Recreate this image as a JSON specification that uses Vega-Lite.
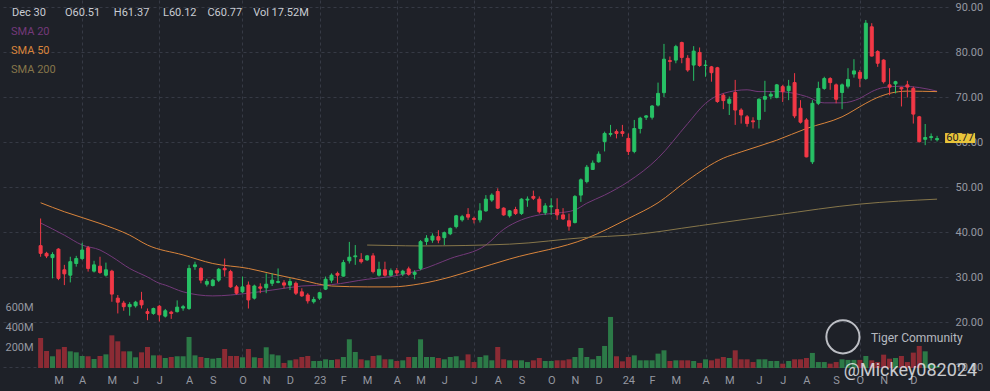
{
 "$schema": "https://vega.github.io/schema/vega-lite/v6.json",
 "width": 948, "height": 368, "autosize": "none", "padding": {"left": 0, "top": 0, "right": 42, "bottom": 23},
 "background": "#1e2128",
 "config": {"view": {"stroke": null}, "font": "Roboto", "axis": {"labelFont": "Roboto"}, "legend": {"labelFont": "Roboto"}},
 "title": {"text": "Dec 30\u00a0\u00a0\u00a0\u00a0\u00a0\u00a0\u00a0O60.51\u00a0\u00a0\u00a0\u00a0\u00a0H61.37\u00a0\u00a0\u00a0\u00a0\u00a0L60.12\u00a0\u00a0\u00a0\u00a0C60.77\u00a0\u00a0\u00a0\u00a0Vol 17.52M", "anchor": "start", "frame": "group", "offset": -18, "dx": 12, "fontSize": 11, "fontWeight": "normal", "color": "#c9ccd3"},
 "datasets": {
  "candles": [
{"date":"2022-02-07","open":36.96,"high":43.0,"low":34.5,"close":35.26,"volume":297},
{"date":"2022-02-14","open":35.26,"high":35.6,"low":34.2,"close":34.67,"volume":168},
{"date":"2022-02-21","open":34.3,"high":35.5,"low":29.7,"close":35.0,"volume":116},
{"date":"2022-02-28","open":36.2,"high":36.4,"low":29.3,"close":29.7,"volume":185},
{"date":"2022-03-07","open":31.6,"high":32.7,"low":28.2,"close":30.7,"volume":208},
{"date":"2022-03-14","open":30.4,"high":34.5,"low":28.8,"close":33.4,"volume":165},
{"date":"2022-03-21","open":33.0,"high":34.7,"low":32.3,"close":34.1,"volume":155},
{"date":"2022-03-28","open":34.1,"high":37.6,"low":33.8,"close":36.0,"volume":119},
{"date":"2022-04-04","open":36.5,"high":36.9,"low":31.2,"close":31.9,"volume":116},
{"date":"2022-04-11","open":31.3,"high":33.6,"low":31.0,"close":32.7,"volume":89},
{"date":"2022-04-18","open":32.4,"high":34.5,"low":30.7,"close":31.0,"volume":119},
{"date":"2022-04-25","open":30.4,"high":33.2,"low":30.1,"close":31.6,"volume":135},
{"date":"2022-05-02","open":31.3,"high":31.6,"low":24.5,"close":26.2,"volume":323},
{"date":"2022-05-09","open":25.3,"high":26.0,"low":21.9,"close":24.4,"volume":264},
{"date":"2022-05-16","open":24.2,"high":24.7,"low":22.5,"close":23.4,"volume":165},
{"date":"2022-05-23","open":23.4,"high":24.4,"low":21.4,"close":23.9,"volume":165},
{"date":"2022-05-30","open":23.6,"high":24.7,"low":23.2,"close":24.4,"volume":106},
{"date":"2022-06-06","open":24.8,"high":26.7,"low":23.0,"close":23.8,"volume":155},
{"date":"2022-06-13","open":22.3,"high":23.0,"low":20.4,"close":21.9,"volume":208},
{"date":"2022-06-20","open":21.9,"high":23.2,"low":21.6,"close":23.0,"volume":125},
{"date":"2022-06-27","open":23.5,"high":23.8,"low":20.1,"close":21.6,"volume":125},
{"date":"2022-07-04","open":21.3,"high":22.9,"low":21.0,"close":22.5,"volume":99},
{"date":"2022-07-11","open":22.2,"high":22.5,"low":20.7,"close":21.9,"volume":109},
{"date":"2022-07-18","open":22.3,"high":24.8,"low":22.1,"close":23.3,"volume":116},
{"date":"2022-07-25","open":23.1,"high":23.8,"low":22.5,"close":23.4,"volume":116},
{"date":"2022-08-01","open":23.0,"high":32.7,"low":22.7,"close":31.9,"volume":307},
{"date":"2022-08-08","open":32.3,"high":33.4,"low":31.6,"close":32.7,"volume":125},
{"date":"2022-08-15","open":31.9,"high":32.2,"low":28.6,"close":29.3,"volume":109},
{"date":"2022-08-22","open":28.4,"high":29.6,"low":27.9,"close":29.0,"volume":99},
{"date":"2022-08-29","open":28.1,"high":29.6,"low":27.9,"close":29.3,"volume":92},
{"date":"2022-09-05","open":29.3,"high":32.0,"low":28.9,"close":31.7,"volume":99},
{"date":"2022-09-12","open":31.9,"high":34.1,"low":30.1,"close":31.6,"volume":188},
{"date":"2022-09-19","open":31.2,"high":31.6,"low":27.6,"close":27.8,"volume":119},
{"date":"2022-09-26","open":27.8,"high":28.2,"low":26.1,"close":26.4,"volume":119},
{"date":"2022-10-03","open":26.7,"high":30.1,"low":26.4,"close":27.8,"volume":106},
{"date":"2022-10-10","open":28.2,"high":29.0,"low":23.0,"close":24.9,"volume":188},
{"date":"2022-10-17","open":25.3,"high":28.3,"low":25.0,"close":28.0,"volume":106},
{"date":"2022-10-24","open":27.8,"high":28.6,"low":26.4,"close":27.5,"volume":99},
{"date":"2022-10-31","open":27.6,"high":30.8,"low":26.4,"close":28.4,"volume":205},
{"date":"2022-11-07","open":28.6,"high":30.8,"low":28.0,"close":29.3,"volume":135},
{"date":"2022-11-14","open":28.8,"high":31.9,"low":28.6,"close":29.0,"volume":125},
{"date":"2022-11-21","open":28.7,"high":29.3,"low":27.5,"close":28.2,"volume":50},
{"date":"2022-11-28","open":28.2,"high":29.7,"low":27.1,"close":29.0,"volume":76},
{"date":"2022-12-05","open":28.6,"high":29.0,"low":26.0,"close":26.4,"volume":86},
{"date":"2022-12-12","open":26.7,"high":27.5,"low":25.6,"close":25.8,"volume":109},
{"date":"2022-12-19","open":26.0,"high":26.4,"low":24.1,"close":24.7,"volume":119},
{"date":"2022-12-26","open":24.5,"high":25.6,"low":24.1,"close":25.0,"volume":69},
{"date":"2023-01-02","open":25.3,"high":26.7,"low":24.9,"close":26.5,"volume":69},
{"date":"2023-01-09","open":27.3,"high":30.1,"low":27.1,"close":29.5,"volume":86},
{"date":"2023-01-16","open":29.3,"high":30.8,"low":28.7,"close":30.4,"volume":79},
{"date":"2023-01-23","open":30.8,"high":31.2,"low":28.6,"close":30.4,"volume":86},
{"date":"2023-01-30","open":30.2,"high":33.8,"low":30.1,"close":33.2,"volume":109},
{"date":"2023-02-06","open":33.6,"high":37.8,"low":33.0,"close":34.4,"volume":284},
{"date":"2023-02-13","open":34.5,"high":37.1,"low":32.7,"close":34.7,"volume":158},
{"date":"2023-02-20","open":33.9,"high":35.3,"low":33.0,"close":33.4,"volume":86},
{"date":"2023-02-27","open":33.8,"high":34.9,"low":33.6,"close":34.7,"volume":76},
{"date":"2023-03-06","open":34.7,"high":35.3,"low":30.8,"close":31.2,"volume":119},
{"date":"2023-03-13","open":30.4,"high":33.4,"low":30.1,"close":31.7,"volume":125},
{"date":"2023-03-20","open":31.6,"high":33.4,"low":30.1,"close":30.4,"volume":86},
{"date":"2023-03-27","open":30.4,"high":31.9,"low":30.1,"close":31.4,"volume":86},
{"date":"2023-04-03","open":31.4,"high":32.0,"low":30.3,"close":30.9,"volume":69},
{"date":"2023-04-10","open":30.7,"high":31.6,"low":30.2,"close":31.3,"volume":76},
{"date":"2023-04-17","open":31.8,"high":32.3,"low":30.3,"close":30.6,"volume":109},
{"date":"2023-04-24","open":30.6,"high":31.5,"low":29.5,"close":31.0,"volume":109},
{"date":"2023-05-01","open":31.9,"high":38.2,"low":31.5,"close":37.85,"volume":284},
{"date":"2023-05-08","open":37.9,"high":39.3,"low":37.1,"close":38.6,"volume":109},
{"date":"2023-05-15","open":38.2,"high":39.7,"low":37.6,"close":39.1,"volume":109},
{"date":"2023-05-22","open":38.96,"high":40.4,"low":37.5,"close":38.2,"volume":99},
{"date":"2023-05-29","open":38.74,"high":40.1,"low":37.1,"close":39.85,"volume":86},
{"date":"2023-06-05","open":39.6,"high":41.0,"low":39.3,"close":40.8,"volume":109},
{"date":"2023-06-12","open":41.2,"high":43.8,"low":40.8,"close":43.6,"volume":116},
{"date":"2023-06-19","open":42.7,"high":43.8,"low":42.3,"close":43.4,"volume":76},
{"date":"2023-06-26","open":43.9,"high":45.3,"low":42.7,"close":43.3,"volume":135},
{"date":"2023-07-03","open":43.0,"high":43.4,"low":41.9,"close":42.8,"volume":59},
{"date":"2023-07-10","open":42.7,"high":46.4,"low":42.1,"close":44.7,"volume":109},
{"date":"2023-07-17","open":44.7,"high":48.2,"low":44.5,"close":47.3,"volume":125},
{"date":"2023-07-24","open":47.1,"high":48.6,"low":46.7,"close":48.2,"volume":76},
{"date":"2023-07-31","open":49.0,"high":49.7,"low":45.1,"close":45.3,"volume":208},
{"date":"2023-08-07","open":45.3,"high":45.5,"low":43.6,"close":43.8,"volume":86},
{"date":"2023-08-14","open":43.6,"high":44.9,"low":43.2,"close":44.7,"volume":76},
{"date":"2023-08-21","open":45.0,"high":45.6,"low":43.8,"close":44.1,"volume":76},
{"date":"2023-08-28","open":44.1,"high":47.5,"low":43.8,"close":47.3,"volume":76},
{"date":"2023-09-04","open":47.1,"high":47.9,"low":45.6,"close":47.3,"volume":59},
{"date":"2023-09-11","open":47.9,"high":49.2,"low":47.1,"close":47.5,"volume":76},
{"date":"2023-09-18","open":47.3,"high":47.9,"low":44.1,"close":44.5,"volume":99},
{"date":"2023-09-25","open":44.3,"high":46.4,"low":43.8,"close":45.8,"volume":69},
{"date":"2023-10-02","open":45.6,"high":47.5,"low":43.8,"close":45.8,"volume":69},
{"date":"2023-10-09","open":45.0,"high":47.5,"low":42.7,"close":43.8,"volume":76},
{"date":"2023-10-16","open":43.8,"high":45.3,"low":42.7,"close":42.9,"volume":76},
{"date":"2023-10-23","open":42.5,"high":44.1,"low":40.3,"close":41.3,"volume":86},
{"date":"2023-10-30","open":42.1,"high":48.2,"low":41.9,"close":47.9,"volume":109},
{"date":"2023-11-06","open":48.2,"high":51.9,"low":46.7,"close":51.6,"volume":198},
{"date":"2023-11-13","open":51.2,"high":54.9,"low":50.8,"close":54.4,"volume":109},
{"date":"2023-11-20","open":53.9,"high":55.9,"low":53.8,"close":55.3,"volume":86},
{"date":"2023-11-27","open":55.6,"high":57.9,"low":55.4,"close":57.3,"volume":119},
{"date":"2023-12-04","open":60.1,"high":62.3,"low":57.9,"close":61.9,"volume":218},
{"date":"2023-12-11","open":61.7,"high":63.8,"low":61.2,"close":61.9,"volume":505},
{"date":"2023-12-18","open":62.3,"high":62.8,"low":60.8,"close":61.9,"volume":116},
{"date":"2023-12-25","open":62.3,"high":63.8,"low":61.2,"close":61.9,"volume":66},
{"date":"2024-01-01","open":60.8,"high":61.9,"low":57.1,"close":57.9,"volume":109},
{"date":"2024-01-08","open":57.9,"high":64.9,"low":57.5,"close":63.0,"volume":125},
{"date":"2024-01-15","open":63.0,"high":65.6,"low":61.9,"close":65.3,"volume":76},
{"date":"2024-01-22","open":65.5,"high":66.0,"low":64.9,"close":65.8,"volume":76},
{"date":"2024-01-29","open":65.5,"high":68.2,"low":65.0,"close":68.0,"volume":76},
{"date":"2024-02-05","open":68.2,"high":73.2,"low":67.9,"close":70.8,"volume":142},
{"date":"2024-02-12","open":70.96,"high":81.8,"low":70.0,"close":78.4,"volume":175},
{"date":"2024-02-19","open":78.1,"high":79.0,"low":75.9,"close":77.9,"volume":69},
{"date":"2024-02-26","open":78.2,"high":81.6,"low":77.5,"close":81.2,"volume":76},
{"date":"2024-03-04","open":82.1,"high":82.3,"low":77.5,"close":78.8,"volume":76},
{"date":"2024-03-11","open":78.6,"high":79.3,"low":75.6,"close":76.0,"volume":76},
{"date":"2024-03-18","open":77.1,"high":81.3,"low":73.6,"close":80.2,"volume":69},
{"date":"2024-03-25","open":79.9,"high":81.0,"low":76.7,"close":77.0,"volume":50},
{"date":"2024-04-01","open":77.0,"high":78.2,"low":74.5,"close":77.1,"volume":86},
{"date":"2024-04-08","open":76.7,"high":76.9,"low":73.4,"close":75.4,"volume":76},
{"date":"2024-04-15","open":76.5,"high":76.7,"low":68.7,"close":69.0,"volume":92},
{"date":"2024-04-22","open":70.4,"high":70.8,"low":67.3,"close":69.2,"volume":109},
{"date":"2024-04-29","open":68.6,"high":70.1,"low":66.0,"close":69.5,"volume":99},
{"date":"2024-05-06","open":71.0,"high":73.8,"low":63.8,"close":67.1,"volume":175},
{"date":"2024-05-13","open":67.1,"high":67.5,"low":64.1,"close":66.0,"volume":86},
{"date":"2024-05-20","open":65.6,"high":66.0,"low":63.4,"close":64.1,"volume":86},
{"date":"2024-05-27","open":64.7,"high":65.5,"low":63.0,"close":64.5,"volume":59},
{"date":"2024-06-03","open":65.0,"high":69.7,"low":63.0,"close":69.5,"volume":86},
{"date":"2024-06-10","open":69.5,"high":73.6,"low":66.7,"close":70.1,"volume":86},
{"date":"2024-06-17","open":70.2,"high":71.2,"low":69.5,"close":70.6,"volume":69},
{"date":"2024-06-24","open":69.9,"high":72.9,"low":69.7,"close":72.7,"volume":69},
{"date":"2024-07-01","open":72.3,"high":72.7,"low":68.9,"close":71.2,"volume":43},
{"date":"2024-07-08","open":71.4,"high":73.8,"low":69.3,"close":72.4,"volume":69},
{"date":"2024-07-15","open":73.2,"high":75.3,"low":65.3,"close":65.8,"volume":86},
{"date":"2024-07-22","open":67.5,"high":69.3,"low":64.1,"close":64.4,"volume":86},
{"date":"2024-07-29","open":64.9,"high":65.3,"low":56.6,"close":56.7,"volume":99},
{"date":"2024-08-05","open":55.6,"high":69.3,"low":55.1,"close":68.6,"volume":149},
{"date":"2024-08-12","open":68.6,"high":73.4,"low":68.2,"close":71.9,"volume":59},
{"date":"2024-08-19","open":71.9,"high":74.5,"low":71.6,"close":74.1,"volume":59},
{"date":"2024-08-26","open":74.1,"high":74.4,"low":71.6,"close":73.2,"volume":43},
{"date":"2024-09-02","open":72.7,"high":73.0,"low":68.6,"close":69.5,"volume":59},
{"date":"2024-09-09","open":71.0,"high":73.0,"low":67.3,"close":72.7,"volume":86},
{"date":"2024-09-16","open":72.4,"high":76.4,"low":71.9,"close":73.9,"volume":80},
{"date":"2024-09-23","open":75.1,"high":78.4,"low":74.3,"close":75.8,"volume":80},
{"date":"2024-09-30","open":75.5,"high":76.0,"low":72.2,"close":74.15,"volume":80},
{"date":"2024-10-07","open":74.1,"high":87.1,"low":73.8,"close":86.4,"volume":119},
{"date":"2024-10-14","open":85.6,"high":86.4,"low":79.0,"close":79.1,"volume":76},
{"date":"2024-10-21","open":80.1,"high":80.4,"low":76.7,"close":77.5,"volume":59},
{"date":"2024-10-28","open":78.2,"high":78.4,"low":73.0,"close":73.4,"volume":132},
{"date":"2024-11-04","open":72.7,"high":76.4,"low":70.4,"close":72.2,"volume":92},
{"date":"2024-11-11","open":72.9,"high":73.6,"low":70.8,"close":73.4,"volume":99},
{"date":"2024-11-18","open":72.1,"high":72.3,"low":67.9,"close":71.8,"volume":119},
{"date":"2024-11-25","open":72.7,"high":73.6,"low":69.9,"close":72.2,"volume":59},
{"date":"2024-12-02","open":71.9,"high":72.3,"low":64.1,"close":66.2,"volume":152},
{"date":"2024-12-09","open":65.6,"high":65.8,"low":59.9,"close":60.07,"volume":218},
{"date":"2024-12-16","open":60.6,"high":64.0,"low":59.3,"close":61.0,"volume":165},
{"date":"2024-12-23","open":61.0,"high":61.9,"low":60.3,"close":61.2,"volume":40},
{"date":"2024-12-30","open":60.51,"high":61.37,"low":60.12,"close":60.77,"volume":17.52}
  ],
  "last": [{"date":"2024-12-30","close":60.77}],
  "sma": [
{"date":"2022-02-07","name":"SMA 20","value":42.0},
{"date":"2022-03-07","name":"SMA 20","value":39.3},
{"date":"2022-03-28","name":"SMA 20","value":37.1},
{"date":"2022-04-18","name":"SMA 20","value":36.0},
{"date":"2022-05-02","name":"SMA 20","value":34.5},
{"date":"2022-05-23","name":"SMA 20","value":31.9},
{"date":"2022-06-13","name":"SMA 20","value":30.0},
{"date":"2022-06-27","name":"SMA 20","value":28.6},
{"date":"2022-07-04","name":"SMA 20","value":28.2},
{"date":"2022-07-25","name":"SMA 20","value":26.7},
{"date":"2022-08-29","name":"SMA 20","value":25.8},
{"date":"2022-10-10","name":"SMA 20","value":26.4},
{"date":"2022-11-07","name":"SMA 20","value":27.1},
{"date":"2022-12-12","name":"SMA 20","value":28.0},
{"date":"2023-01-16","name":"SMA 20","value":28.3},
{"date":"2023-02-27","name":"SMA 20","value":29.5},
{"date":"2023-03-27","name":"SMA 20","value":30.1},
{"date":"2023-05-01","name":"SMA 20","value":31.6},
{"date":"2023-06-05","name":"SMA 20","value":34.1},
{"date":"2023-07-17","name":"SMA 20","value":37.1},
{"date":"2023-08-07","name":"SMA 20","value":40.6},
{"date":"2023-08-28","name":"SMA 20","value":42.7},
{"date":"2023-09-18","name":"SMA 20","value":43.8},
{"date":"2023-10-09","name":"SMA 20","value":44.2},
{"date":"2023-10-30","name":"SMA 20","value":44.9},
{"date":"2023-11-13","name":"SMA 20","value":46.4},
{"date":"2023-12-04","name":"SMA 20","value":48.2},
{"date":"2024-01-01","name":"SMA 20","value":51.2},
{"date":"2024-02-05","name":"SMA 20","value":56.4},
{"date":"2024-03-11","name":"SMA 20","value":64.1},
{"date":"2024-04-01","name":"SMA 20","value":68.6},
{"date":"2024-04-22","name":"SMA 20","value":70.8},
{"date":"2024-05-20","name":"SMA 20","value":71.6},
{"date":"2024-06-03","name":"SMA 20","value":71.2},
{"date":"2024-06-24","name":"SMA 20","value":71.2},
{"date":"2024-07-15","name":"SMA 20","value":70.8},
{"date":"2024-07-29","name":"SMA 20","value":70.1},
{"date":"2024-08-19","name":"SMA 20","value":68.7},
{"date":"2024-09-09","name":"SMA 20","value":68.7},
{"date":"2024-09-30","name":"SMA 20","value":69.7},
{"date":"2024-10-14","name":"SMA 20","value":71.2},
{"date":"2024-10-28","name":"SMA 20","value":72.1},
{"date":"2024-11-18","name":"SMA 20","value":72.4},
{"date":"2024-12-09","name":"SMA 20","value":72.1},
{"date":"2024-12-30","name":"SMA 20","value":71.3},
{"date":"2022-02-07","name":"SMA 50","value":46.5},
{"date":"2022-03-07","name":"SMA 50","value":44.5},
{"date":"2022-04-18","name":"SMA 50","value":41.9},
{"date":"2022-05-23","name":"SMA 50","value":39.3},
{"date":"2022-06-13","name":"SMA 50","value":37.1},
{"date":"2022-07-25","name":"SMA 50","value":34.9},
{"date":"2022-08-29","name":"SMA 50","value":33.0},
{"date":"2022-10-10","name":"SMA 50","value":31.9},
{"date":"2022-11-07","name":"SMA 50","value":30.7},
{"date":"2022-12-12","name":"SMA 50","value":29.3},
{"date":"2023-01-16","name":"SMA 50","value":28.0},
{"date":"2023-02-27","name":"SMA 50","value":27.8},
{"date":"2023-03-27","name":"SMA 50","value":27.8},
{"date":"2023-05-01","name":"SMA 50","value":28.5},
{"date":"2023-06-05","name":"SMA 50","value":30.0},
{"date":"2023-07-03","name":"SMA 50","value":31.6},
{"date":"2023-08-14","name":"SMA 50","value":34.0},
{"date":"2023-11-13","name":"SMA 50","value":38.6},
{"date":"2024-01-01","name":"SMA 50","value":43.0},
{"date":"2024-02-05","name":"SMA 50","value":46.5},
{"date":"2024-03-11","name":"SMA 50","value":51.5},
{"date":"2024-04-22","name":"SMA 50","value":56.4},
{"date":"2024-05-13","name":"SMA 50","value":57.8},
{"date":"2024-06-24","name":"SMA 50","value":60.4},
{"date":"2024-07-29","name":"SMA 50","value":63.0},
{"date":"2024-09-09","name":"SMA 50","value":65.6},
{"date":"2024-10-07","name":"SMA 50","value":68.6},
{"date":"2024-10-14","name":"SMA 50","value":69.3},
{"date":"2024-11-04","name":"SMA 50","value":70.8},
{"date":"2024-11-25","name":"SMA 50","value":71.3},
{"date":"2024-12-30","name":"SMA 50","value":71.2},
{"date":"2023-02-27","name":"SMA 200","value":37.1},
{"date":"2023-03-27","name":"SMA 200","value":37.0},
{"date":"2023-05-01","name":"SMA 200","value":36.9},
{"date":"2023-08-14","name":"SMA 200","value":37.3},
{"date":"2023-11-13","name":"SMA 200","value":38.8},
{"date":"2024-01-01","name":"SMA 200","value":39.3},
{"date":"2024-03-25","name":"SMA 200","value":41.4},
{"date":"2024-06-24","name":"SMA 200","value":43.8},
{"date":"2024-09-30","name":"SMA 200","value":46.2},
{"date":"2024-12-30","name":"SMA 200","value":47.3}
  ]
 },
 "encoding": {
  "x": {"field": "date", "type": "temporal",
   "scale": {"type": "utc", "nice": false, "domain": [{"year": 2021, "month": 12, "date": 27, "utc": true}, {"year": 2025, "month": 1, "date": 6, "utc": true}]},
   "axis": {"title": null, "ticks": false, "domain": false, "labelFlush": false, "labelOverlap": false,
    "labelColor": "#9598a1", "labelFontSize": 11, "labelPadding": 6,
    "values": [
     {"year":2022,"month":2,"date":28,"utc":true},{"year":2022,"month":3,"date":28,"utc":true},{"year":2022,"month":5,"date":2,"utc":true},{"year":2022,"month":5,"date":30,"utc":true},{"year":2022,"month":6,"date":27,"utc":true},{"year":2022,"month":8,"date":1,"utc":true},{"year":2022,"month":8,"date":29,"utc":true},{"year":2022,"month":10,"date":3,"utc":true},{"year":2022,"month":10,"date":31,"utc":true},{"year":2022,"month":11,"date":28,"utc":true},
     {"year":2023,"month":1,"date":2,"utc":true},{"year":2023,"month":1,"date":30,"utc":true},{"year":2023,"month":2,"date":27,"utc":true},{"year":2023,"month":4,"date":3,"utc":true},{"year":2023,"month":5,"date":1,"utc":true},{"year":2023,"month":5,"date":29,"utc":true},{"year":2023,"month":7,"date":3,"utc":true},{"year":2023,"month":7,"date":31,"utc":true},{"year":2023,"month":8,"date":28,"utc":true},{"year":2023,"month":10,"date":2,"utc":true},{"year":2023,"month":10,"date":30,"utc":true},{"year":2023,"month":11,"date":27,"utc":true},
     {"year":2024,"month":1,"date":1,"utc":true},{"year":2024,"month":1,"date":29,"utc":true},{"year":2024,"month":2,"date":26,"utc":true},{"year":2024,"month":4,"date":1,"utc":true},{"year":2024,"month":4,"date":29,"utc":true},{"year":2024,"month":6,"date":3,"utc":true},{"year":2024,"month":7,"date":1,"utc":true},{"year":2024,"month":7,"date":29,"utc":true},{"year":2024,"month":9,"date":2,"utc":true},{"year":2024,"month":9,"date":30,"utc":true},{"year":2024,"month":10,"date":28,"utc":true},{"year":2024,"month":12,"date":2,"utc":true}
    ],
    "labelExpr": "utcFormat(datum.value + 6*864e5, '%m') == '01' ? utcFormat(datum.value + 6*864e5, '%y') : slice(utcFormat(datum.value + 6*864e5, '%b'), 0, 1)",
    "grid": true, "gridDash": [3, 3], "gridColor": "#363a45",
    "gridOpacity": {"condition": {"test": "utcmonth(datum.value + 6*864e5) % 3 == 0", "value": 1}, "value": 0}
   }
  }
 },
 "layer": [
  {
   "data": {"name": "candles"},
   "mark": {"type": "bar", "width": 5},
   "encoding": {
    "y": {"field": "volume", "type": "quantitative", "scale": {"domain": [0, 3640], "nice": false},
     "axis": {"orient": "left", "values": [200, 400, 600], "labelExpr": "datum.value + 'M'", "labelAlign": "left", "labelPadding": -5, "ticks": false, "tickSize": 0, "domain": false, "grid": false, "title": null, "labelColor": "#9598a1", "labelFontSize": 11, "labelFlush": false}},
    "color": {"condition": {"test": "datum.close >= datum.open", "value": "#2c7a47"}, "value": "#8c2b34"}
   }
  },
  {
   "layer": [
    {
     "data": {"name": "sma"},
     "mark": {"type": "line", "strokeWidth": 1, "interpolate": "monotone"},
     "encoding": {
      "y": {"field": "value", "type": "quantitative", "scale": {"domain": [9.778, 91.556], "nice": false, "zero": false},
       "axis": {"orient": "right", "zindex": 0, "values": [10, 20, 30, 40, 50, 60, 70, 80, 90], "format": ".2f", "labelAlign": "left", "labelPadding": 7, "ticks": false, "domain": false, "title": null, "grid": true, "gridDash": [3, 3], "gridColor": "#363a45", "labelColor": "#9598a1", "labelFontSize": 11, "labelFlush": false, "labelOverlap": false}},
      "color": {"field": "name", "type": "nominal",
       "scale": {"domain": ["SMA 20", "SMA 50", "SMA 200"], "range": ["#74397a", "#d9843b", "#86764a"]},
       "legend": {"orient": "none", "legendX": 0, "legendY": 26, "title": null, "symbolSize": 0, "symbolStrokeWidth": 0, "symbolOpacity": 0, "labelOffset": 0, "labelFontSize": 11, "rowPadding": 7, "padding": 0,
        "encode": {"labels": {"update": {"fill": {"scale": "color", "field": "value"}}}}}}
     }
    },
    {
     "data": {"name": "candles"},
     "mark": {"type": "rule", "strokeWidth": 1},
     "encoding": {
      "y": {"field": "low", "type": "quantitative", "scale": {"domain": [9.778, 91.556], "nice": false, "zero": false}},
      "y2": {"field": "high"},
      "color": {"condition": {"test": "datum.close >= datum.open", "value": "#27c165"}, "value": "#f23846"}
     }
    },
    {
     "data": {"name": "candles"},
     "mark": {"type": "bar", "width": 3, "strokeWidth": 1},
     "encoding": {
      "y": {"field": "open", "type": "quantitative", "scale": {"domain": [9.778, 91.556], "nice": false, "zero": false}},
      "y2": {"field": "close"},
      "color": {"condition": {"test": "datum.close >= datum.open", "value": "#27c165"}, "value": "#f23846"},
      "stroke": {"condition": {"test": "datum.close >= datum.open", "value": "#27c165"}, "value": "#f23846"}
     }
    },
    {
     "data": {"name": "last"},
     "mark": {"type": "point", "shape": "circle", "filled": false, "size": 1100, "strokeWidth": 2, "color": "#d8dae0", "opacity": 0.85},
     "encoding": {
      "x": {"datum": {"year": 2024, "month": 9, "date": 10, "utc": true}, "type": "temporal"},
      "y": {"datum": 16.7, "type": "quantitative", "scale": {"domain": [9.778, 91.556], "nice": false, "zero": false}}
     }
    },
    {
     "data": {"name": "last"},
     "mark": {"type": "text", "align": "left", "baseline": "middle", "fontSize": 12, "color": "#c6c9d0", "opacity": 0.9},
     "encoding": {
      "x": {"datum": {"year": 2024, "month": 10, "date": 13, "utc": true}, "type": "temporal"},
      "y": {"datum": 16.4, "type": "quantitative", "scale": {"domain": [9.778, 91.556], "nice": false, "zero": false}},
      "text": {"value": "Tiger Community"}
     }
    },
    {
     "data": {"name": "last"},
     "mark": {"type": "text", "align": "left", "baseline": "middle", "fontSize": 18, "color": "#e6e8ec", "opacity": 0.85},
     "encoding": {
      "x": {"datum": {"year": 2024, "month": 9, "date": 11, "utc": true}, "type": "temporal"},
      "y": {"datum": 9.1, "type": "quantitative", "scale": {"domain": [9.778, 91.556], "nice": false, "zero": false}},
      "text": {"value": "@Mickey082024"}
     }
    },
    {
     "data": {"name": "last"},
     "mark": {"type": "rect", "color": "#e8c43a", "xOffset": 8, "x2Offset": 38, "yOffset": -5.5, "y2Offset": 4.5},
     "encoding": {
      "x2": {"field": "date"},
      "y": {"field": "close", "type": "quantitative", "scale": {"domain": [9.778, 91.556], "nice": false, "zero": false}},
      "y2": {"field": "close"}
     }
    },
    {
     "data": {"name": "last"},
     "mark": {"type": "text", "dx": 23, "dy": -0.5, "align": "center", "baseline": "middle", "fontSize": 11, "color": "#1e2128"},
     "encoding": {
      "y": {"field": "close", "type": "quantitative", "scale": {"domain": [9.778, 91.556], "nice": false, "zero": false}},
      "text": {"field": "close", "type": "quantitative", "format": ".2f"}
     }
    }
   ]
  }
 ],
 "resolve": {"scale": {"y": "independent"}}
}
